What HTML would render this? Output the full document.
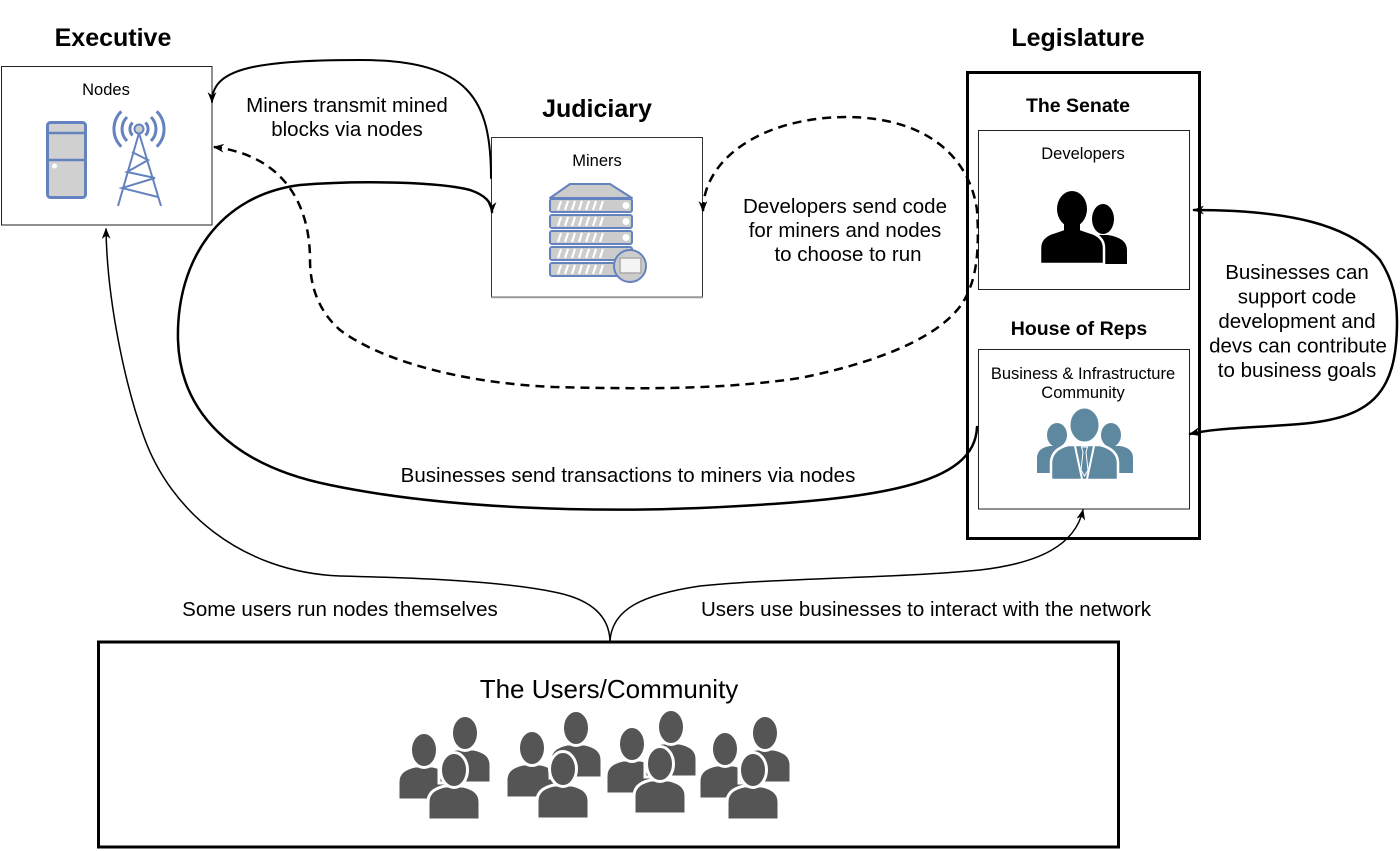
<!DOCTYPE html>
<html><head><meta charset="utf-8"><style>
html,body{margin:0;padding:0;background:#fff;}
svg{display:block;font-family:"Liberation Sans",Arial,sans-serif;}
</style></head><body>
<svg width="1400" height="851" viewBox="0 0 1400 851" xmlns="http://www.w3.org/2000/svg">
<defs>
<marker id="ah" viewBox="0 0 10 8" refX="9" refY="4" markerWidth="11" markerHeight="9" markerUnits="userSpaceOnUse" orient="auto-start-reverse"><path d="M0,0 L10,4 L0,8 L3,4 Z" fill="#000"/></marker>
<g id="u">
<path d="M-26,50 L-26,32 C-26,22 -18,18 -9,16 L9,16 C18,18 26,22 26,32 L26,50 Z" fill="#555" stroke="#fff" stroke-width="3"/>
<ellipse cx="0" cy="0" rx="13.5" ry="17.5" fill="#555" stroke="#fff" stroke-width="3"/>
</g>
</defs>
<rect width="1400" height="851" fill="#fff"/>

<!-- Titles -->
<g font-weight="bold" font-size="25" text-anchor="middle" fill="#000">
<text x="113" y="46">Executive</text>
<text x="597" y="117">Judiciary</text>
<text x="1078" y="46">Legislature</text>
</g>

<!-- Nodes box -->
<rect x="1.5" y="66.5" width="210.5" height="158.5" fill="#fff" stroke="#222" stroke-width="1"/>
<text x="106" y="95" font-size="16.5" text-anchor="middle">Nodes</text>
<rect x="47.5" y="122.5" width="38" height="75" rx="3" fill="#d0d0d0" stroke="#6482be" stroke-width="3"/>
<line x1="47" y1="133" x2="86" y2="133" stroke="#6482be" stroke-width="2.5"/>
<line x1="47" y1="160" x2="86" y2="160" stroke="#6482be" stroke-width="2.5"/>
<circle cx="54.5" cy="166" r="2.5" fill="#fff"/>
<g stroke="#6482be" fill="none" stroke-width="2">
<line x1="139" y1="133" x2="118" y2="206"/>
<line x1="139" y1="133" x2="161" y2="206"/>
<polyline points="132,152 148,160 127,172 155,178 122,188 158,197"/>
</g>
<g stroke="#6482be" fill="none" stroke-width="3">
<path d="M 132.6 122.6 A 9 9 0 0 0 132.6 135.4"/>
<path d="M 127 117 A 17 17 0 0 0 127 141"/>
<path d="M 121.3 111.3 A 25 25 0 0 0 121.3 146.7"/>
<path d="M 145.4 122.6 A 9 9 0 0 1 145.4 135.4"/>
<path d="M 151 117 A 17 17 0 0 1 151 141"/>
<path d="M 156.7 111.3 A 25 25 0 0 1 156.7 146.7"/>
</g>
<circle cx="139" cy="129" r="4.5" fill="#ccc" stroke="#6482be" stroke-width="2"/>

<!-- Miners box -->
<rect x="491.5" y="137.5" width="211" height="159.5" fill="#fff" stroke="#333" stroke-width="1"/>
<line x1="491" y1="297.5" x2="703" y2="297.5" stroke="#999" stroke-width="1.5"/>
<text x="597" y="166" font-size="16.5" text-anchor="middle">Miners</text>
<polygon points="550,198 570,184 610,184 632,198" fill="#ccc" stroke="#6482be" stroke-width="2" stroke-linejoin="round"/>
<g fill="#ccc" stroke="#6482be" stroke-width="2">
<rect x="550" y="199" width="82" height="13" rx="2"/>
<rect x="550" y="215" width="82" height="13" rx="2"/>
<rect x="550" y="231" width="82" height="13" rx="2"/>
<rect x="550" y="247" width="82" height="13" rx="2"/>
<rect x="550" y="263" width="82" height="13" rx="2"/>
</g>
<g stroke="#fff" stroke-width="2.2">
<path d="M558 210 l3 -9 M565 210 l3 -9 M572 210 l3 -9 M579 210 l3 -9 M586 210 l3 -9 M593 210 l3 -9 M600 210 l3 -9"/>
<path d="M558 226 l3 -9 M565 226 l3 -9 M572 226 l3 -9 M579 226 l3 -9 M586 226 l3 -9 M593 226 l3 -9 M600 226 l3 -9"/>
<path d="M558 242 l3 -9 M565 242 l3 -9 M572 242 l3 -9 M579 242 l3 -9 M586 242 l3 -9 M593 242 l3 -9 M600 242 l3 -9"/>
<path d="M558 258 l3 -9 M565 258 l3 -9 M572 258 l3 -9 M579 258 l3 -9 M586 258 l3 -9 M593 258 l3 -9 M600 258 l3 -9"/>
<path d="M558 274 l3 -9 M565 274 l3 -9 M572 274 l3 -9 M579 274 l3 -9 M586 274 l3 -9 M593 274 l3 -9 M600 274 l3 -9"/>
</g>
<circle cx="626" cy="205.5" r="3.5" fill="#fff"/>
<circle cx="626" cy="221.5" r="3.5" fill="#fff"/>
<circle cx="626" cy="237.5" r="3.5" fill="#fff"/>
<circle cx="630" cy="266" r="16" fill="#ccc" stroke="#6482be" stroke-width="2"/>
<rect x="620" y="258" width="21" height="15" fill="#f4f4f4" stroke="#aaa" stroke-width="1.5"/>

<!-- Legislature -->
<rect x="967.5" y="72.5" width="232" height="466" fill="none" stroke="#000" stroke-width="3"/>
<text x="1078" y="112" font-size="19.5" font-weight="bold" text-anchor="middle">The Senate</text>
<rect x="978.5" y="130.5" width="211" height="159" fill="#fff" stroke="#222" stroke-width="1"/>
<text x="1083" y="159" font-size="16.5" text-anchor="middle">Developers</text>
<!-- developers icon -->
<ellipse cx="1103" cy="219" rx="11" ry="15" fill="#000"/>
<path d="M1090 264 L1090 247 Q1090 237 1100 235 L1108 235 Q1127 238 1127 250 L1127 264 Z" fill="#000"/>
<path d="M1040 264 L1040 248 Q1040 236 1055 232 L1064 229 L1080 229 L1089 232 Q1104 236 1104 248 L1104 264 Z" fill="#000" stroke="#fff" stroke-width="2.5"/>
<rect x="1064" y="220" width="16" height="12" fill="#000"/>
<ellipse cx="1072" cy="209" rx="15" ry="18" fill="#000"/>

<text x="1079" y="335" font-size="19.5" font-weight="bold" text-anchor="middle">House of Reps</text>
<rect x="978.5" y="349.5" width="211" height="159.5" fill="#fff" stroke="#222" stroke-width="1"/>
<text x="1083" y="379" font-size="16.5" text-anchor="middle">Business &amp; Infrastructure</text>
<text x="1083" y="398" font-size="16.5" text-anchor="middle">Community</text>
<!-- business icon -->
<g fill="#5d889f">
<ellipse cx="1057" cy="435" rx="10" ry="12"/>
<path d="M1037 473 L1037 458 Q1037 448 1050 446 L1064 446 Q1070 448 1070 455 L1070 473 Z"/>
<ellipse cx="1111" cy="435" rx="10" ry="12"/>
<path d="M1133 473 L1133 458 Q1133 448 1120 446 L1106 446 Q1100 448 1100 455 L1100 473 Z"/>
<path d="M1051 480 L1051 462 Q1052 449 1068 445 L1100 445 Q1117 449 1118 462 L1118 480 Z" stroke="#fff" stroke-width="2.5"/>
<ellipse cx="1084.5" cy="425" rx="15" ry="17.5" stroke="#fff" stroke-width="2"/>
</g>
<g stroke="#fff" stroke-width="2" fill="none">
<line x1="1075" y1="446" x2="1082" y2="479"/>
<line x1="1094" y1="446" x2="1087" y2="479"/>
</g>
<polygon points="1081.5,447 1087.5,447 1086,452 1088,470 1084.5,476 1081,470 1083,452" fill="#5d889f" stroke="#fff" stroke-width="1"/>

<!-- Users box -->
<rect x="98.5" y="642" width="1020" height="205" fill="#fff" stroke="#000" stroke-width="3"/>
<text x="609" y="698" font-size="26" text-anchor="middle">The Users/Community</text>
<use href="#u" x="424" y="750"/><use href="#u" x="465" y="733"/><use href="#u" x="454" y="770"/>
<use href="#u" x="532" y="748"/><use href="#u" x="576" y="728"/><use href="#u" x="563" y="769"/>
<use href="#u" x="632" y="744"/><use href="#u" x="671" y="727"/><use href="#u" x="660" y="764"/>
<use href="#u" x="725" y="749"/><use href="#u" x="765" y="733"/><use href="#u" x="753" y="770"/>

<!-- Connectors -->
<g fill="none" stroke="#000" stroke-linecap="round">
<path d="M 491 178 C 491 100, 470 60, 360 60 C 250 60, 212 70, 212 102" stroke-width="2" marker-end="url(#ah)"/>
<path d="M 977 427 C 975 485, 880 500, 700 508 C 600 512, 450 510, 330 485 C 230 465, 180 410, 178 340 C 176 260, 220 195, 300 185 C 360 180, 440 182, 470 190 C 488 196, 492 205, 492 212" stroke-width="2.5" marker-end="url(#ah)"/>
<path d="M 703 211 C 703 160, 760 118, 845 117 C 930 117, 970 160, 977 210 C 979 240, 978 270, 969 290 C 955 330, 890 360, 800 378 C 720 390, 640 389, 554 387 C 460 383, 380 360, 340 330 C 315 308, 310 280, 310 260 C 310 200, 280 155, 214 147" stroke-width="2.5" stroke-dasharray="9 6" stroke-linecap="butt" marker-start="url(#ah)" marker-end="url(#ah)"/>
<path d="M 1194 210 C 1290 210, 1350 225, 1380 260 C 1393 280, 1397 300, 1397 322 C 1397 395, 1370 418, 1300 424 C 1250 428, 1215 428, 1190 434" stroke-width="2.5" marker-start="url(#ah)" marker-end="url(#ah)"/>
<path d="M 610 641 C 609 612, 585 598, 554 592 C 500 581, 420 578, 340 576 C 240 572, 170 510, 144 437 C 125 385, 107 300, 106 229" stroke-width="1.5" marker-end="url(#ah)"/>
<path d="M 610 641 C 612 610, 640 595, 700 586 C 780 578, 900 578, 980 570 C 1040 563, 1075 545, 1083 510" stroke-width="1.5" marker-end="url(#ah)"/>
</g>

<!-- Connector labels -->
<g font-size="20.5" text-anchor="middle" fill="#000">
<text x="347" y="112">Miners transmit mined</text>
<text x="347" y="136">blocks via nodes</text>
<text x="845" y="213">Developers send code</text>
<text x="845" y="237">for miners and nodes</text>
<text x="848" y="261">to choose to run</text>
<text x="1297" y="279">Businesses can</text>
<text x="1297" y="303.5">support code</text>
<text x="1297" y="328">development and</text>
<text x="1298" y="352.5">devs can contribute</text>
<text x="1297" y="377">to business goals</text>
<text x="628" y="482">Businesses send transactions to miners via nodes</text>
<text x="340" y="616">Some users run nodes themselves</text>
<text x="926" y="616">Users use businesses to interact with the network</text>
</g>
</svg>
</body></html>
